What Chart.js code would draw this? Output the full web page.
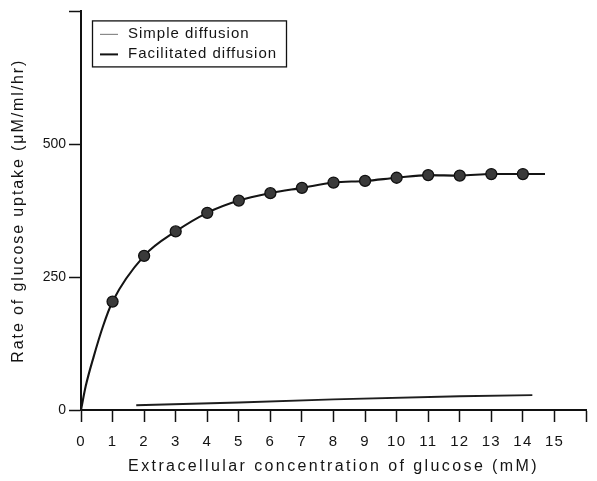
<!DOCTYPE html>
<html>
<head>
<meta charset="utf-8">
<script src="https://cdn.jsdelivr.net/npm/chart.js@4.4.1/dist/chart.umd.min.js"></script>
<style>
  html, body { margin: 0; padding: 0; background: #ffffff; }
  #wrap { width: 597px; height: 481px; position: relative; }
</style>
</head>
<body>
<div id="wrap"><canvas id="c"></canvas></div>
<script>
// ---- data ----
const seriesNames = ['Simple diffusion', 'Facilitated diffusion'];

// facilitated diffusion: curve through the measured dots (x in mM, y in µM/ml/hr)
const facilitatedX = [0, 0.15, 0.4, 0.7, 1, 2, 3, 4, 5, 6, 7, 8, 9, 10, 11, 12, 13, 14, 14.7];
const facilitatedY = [0, 45, 100, 158, 204, 290, 336, 371, 394, 408, 418, 428, 431, 437, 442, 441, 444, 444, 444];
// x values where a dot marker is drawn
const measuredX = [1, 2, 3, 4, 5, 6, 7, 8, 9, 10, 11, 12, 13, 14];

// simple diffusion: thin nearly flat line
const simpleX = [1.75, 5, 8, 12, 14.3];
const simpleY = [9, 14, 20, 26, 28];

// axis ticks
const xTicks = [0, 1, 2, 3, 4, 5, 6, 7, 8, 9, 10, 11, 12, 13, 14, 15, 16];
const xTickLabels = ['0','1','2','3','4','5','6','7','8','9','10','11','12','13','14','15',''];
const yTicks = [0, 250, 500, 750];
const yTickLabels = ['0', '250', '500', ''];

const xTitle = 'Extracellular concentration of glucose (mM)';
const yTitle = 'Rate of glucose uptake (\u03BCM/ml/hr)';

// ---- letter spacing for axis titles / tick labels (scanned type is widely spaced) ----
const titleSpacing = { x: '2.4px', y: '1.9px' };
const tickSpacing = { x: '1.2px', y: '0px' };
const LinearProto = Chart.registry.getScale('linear').prototype;
const origDrawTitle = LinearProto.drawTitle;
LinearProto.drawTitle = function (...args) {
  const ctx = this.ctx, prev = ctx.letterSpacing;
  ctx.letterSpacing = titleSpacing[this.axis] || '0px';
  origDrawTitle.apply(this, args);
  ctx.letterSpacing = prev || '0px';
};
const origDrawLabels = LinearProto.drawLabels;
LinearProto.drawLabels = function (...args) {
  const ctx = this.ctx, prev = ctx.letterSpacing;
  ctx.letterSpacing = tickSpacing[this.axis] || '0px';
  origDrawLabels.apply(this, args);
  ctx.letterSpacing = prev || '0px';
};

const FONT = '"Liberation Sans", Arial, Helvetica, sans-serif';
const INK = '#141414';

const boxLegend = {
  id: 'boxLegend',
  afterDraw(chart) {
    const ctx = chart.ctx, a = chart.chartArea;
    const x0 = a.left + 11, y0 = a.top + 9, w = 194, h = 46;
    ctx.save();
    ctx.strokeStyle = '#111';
    ctx.lineWidth = 1.3;
    ctx.strokeRect(x0 + 0.5, y0 + 0.5, w, h);
    ctx.font = '15px ' + FONT;
    ctx.letterSpacing = '1px';
    ctx.fillStyle = INK;
    ctx.textBaseline = 'middle';
    ctx.textAlign = 'left';
    const styles = [
      { color: '#8a8a8a', width: 1.2 },
      { color: '#111111', width: 2 }
    ];
    chart.data.datasets.forEach((ds, i) => {
      const cy = y0 + 13 + i * 20;
      ctx.strokeStyle = styles[i].color;
      ctx.lineWidth = styles[i].width;
      ctx.beginPath();
      ctx.moveTo(x0 + 8, cy + 1);
      ctx.lineTo(x0 + 26, cy + 1);
      ctx.stroke();
      ctx.fillText(ds.label, x0 + 36, cy);
    });
    ctx.restore();
  }
};

new Chart(document.getElementById('c'), {
  type: 'line',
  data: {
    datasets: [
      {
        label: seriesNames[0],
        data: simpleX.map((x, i) => ({ x, y: simpleY[i] })),
        borderColor: '#1e1e1e',
        borderWidth: 1.9,
        pointRadius: 0,
        tension: 0,
        fill: false
      },
      {
        label: seriesNames[1],
        data: facilitatedX.map((x, i) => ({ x, y: facilitatedY[i] })),
        borderColor: '#141414',
        borderWidth: 2.1,
        cubicInterpolationMode: 'monotone',
        pointRadius: (c) => (c.raw && measuredX.includes(c.raw.x)) ? 5.5 : 0,
        pointHoverRadius: 0,
        pointBackgroundColor: '#3a3a3a',
        pointBorderColor: '#111111',
        pointBorderWidth: 1.3,
        fill: false
      }
    ]
  },
  options: {
    responsive: true,
    maintainAspectRatio: false,
    animation: false,
    events: [],
    layout: { padding: { top: 8, right: 0, left: 0, bottom: 0 } },
    plugins: {
      legend: { display: false },
      tooltip: { enabled: false }
    },
    scales: {
      x: {
        type: 'linear',
        min: 0,
        max: 16,
        afterBuildTicks: (s) => { s.ticks = xTicks.map(v => ({ value: v })); },
        afterFit: (s) => { s.height = 71; },
        ticks: {
          autoSkip: false,
          maxRotation: 0,
          padding: 11,
          color: INK,
          font: { family: FONT, size: 15 },
          callback: (v) => xTickLabels[xTicks.indexOf(v)] ?? ''
        },
        grid: { display: true, drawOnChartArea: false, drawTicks: true, tickLength: 12, tickColor: '#111', tickWidth: 1.5 },
        border: { display: true, color: '#111', width: 2 },
        title: {
          display: true,
          text: xTitle,
          color: INK,
          font: { family: FONT, size: 16 },
          padding: { top: 0, bottom: 4.5 }
        }
      },
      y: {
        type: 'linear',
        min: 0,
        max: 750,
        afterBuildTicks: (s) => { s.ticks = yTicks.map(v => ({ value: v })); },
        afterFit: (s) => { s.width = 81; },
        ticks: {
          autoSkip: false,
          padding: 3,
          color: INK,
          font: { family: FONT, size: 14 },
          callback: (v) => yTickLabels[yTicks.indexOf(v)] ?? ''
        },
        grid: { display: true, drawOnChartArea: false, drawTicks: true, tickLength: 12, tickColor: '#111', tickWidth: 1.5 },
        border: { display: true, color: '#111', width: 2 },
        title: {
          display: true,
          text: yTitle,
          color: INK,
          font: { family: FONT, size: 16 },
          padding: { top: 9, bottom: 0 }
        }
      }
    }
  },
  plugins: [boxLegend]
});
</script>
</body>
</html>
